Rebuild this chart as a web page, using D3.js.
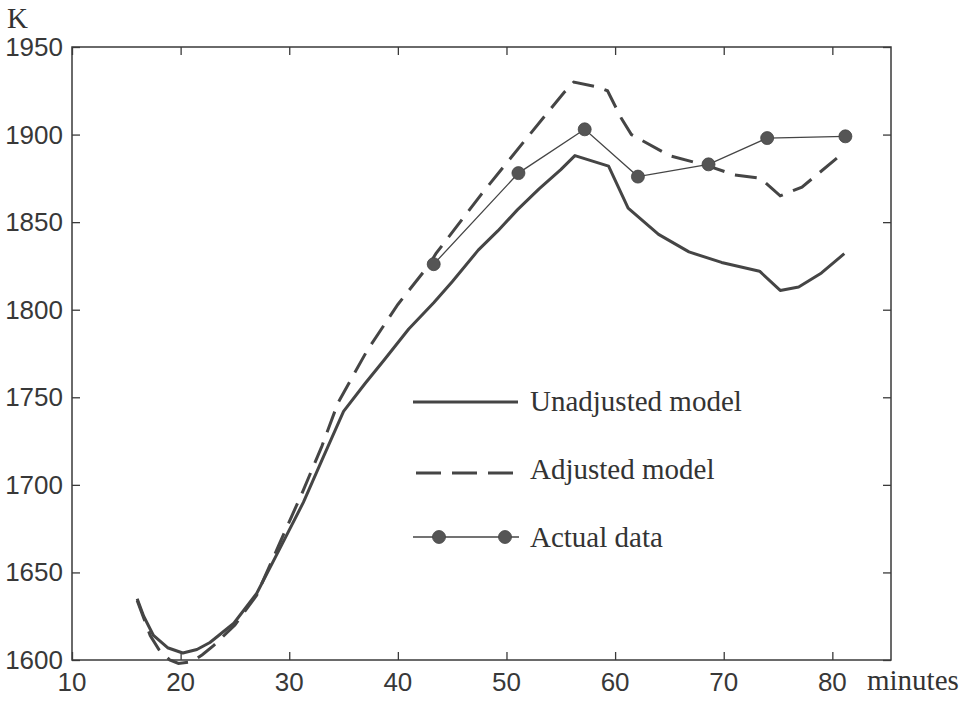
<!DOCTYPE html>
<html>
<head>
<meta charset="utf-8">
<script src="https://cdn.jsdelivr.net/npm/d3@7"></script>
<style>
  html, body { margin: 0; padding: 0; background: #fff; }
  svg { display: block; }
</style>
</head>
<body>
<svg id="chart" width="966" height="707"></svg>
<script>
// ---------- DATA ----------
const unadjustedT = [16, 16.6, 17.5, 18.8, 20.2, 21.5, 22.7, 24.9, 27, 29, 31.3, 33, 35, 37, 38.7, 41, 43.3, 45, 47.4, 49.2, 51, 53, 55, 56.3, 59.4, 61.2, 64, 66.8, 69.8, 73.3, 75.2, 76.9, 79, 81.1];
const unadjustedK = [1635, 1625, 1614, 1607, 1604, 1606, 1610, 1621, 1638, 1662, 1690, 1714, 1742, 1758, 1771, 1789, 1804, 1816, 1834, 1845, 1857, 1869, 1880, 1888, 1882, 1858, 1843, 1833, 1827, 1822, 1811, 1813, 1821, 1832];

const adjustedT = [16, 16.6, 17.2, 18, 19, 19.8, 21, 22, 23, 25, 27, 29, 31.3, 33, 34.5, 37.2, 40, 42.8, 43.5, 47.7, 52, 55.3, 56.2, 58.5, 59.3, 60.6, 61.5, 65, 68.6, 71, 73.4, 75.2, 77.2, 81.1];
const adjustedK = [1634, 1624, 1614, 1606, 1600, 1598, 1599, 1603, 1608, 1620, 1637, 1665, 1697, 1722, 1747, 1777, 1803, 1825, 1832, 1866, 1899, 1924, 1930, 1927, 1925, 1909, 1900, 1888, 1882, 1877, 1875, 1865, 1870, 1890];

const actualT = [43.3, 51.1, 57.2, 62.1, 68.6, 74, 81.2];
const actualK = [1826, 1878, 1903, 1876, 1883, 1898, 1899];

const xTicks = [10, 20, 30, 40, 50, 60, 70, 80];
const yTicks = [1600, 1650, 1700, 1750, 1800, 1850, 1900, 1950];
const legendLabels = ["Unadjusted model", "Adjusted model", "Actual data"];
const yUnit = "K";
const xUnit = "minutes";

// ---------- LAYOUT ----------
const svg = d3.select("#chart");
const pL = 72, pR = 891, pT = 47, pB = 660;
const x = d3.scaleLinear().domain([10, 85.4]).range([pL, pR]);
const y = d3.scaleLinear().domain([1600, 1950]).range([pB, pT]);

const axisColor = "#3a3a3a";
const lineColor = "#454545";
const sans = "'Liberation Sans', Arial, sans-serif";
const serif = "'Liberation Serif', 'Times New Roman', serif";

svg.append("rect").attr("width", 966).attr("height", 707).attr("fill", "#fff");

// Box
svg.append("rect")
  .attr("x", pL).attr("y", pT)
  .attr("width", pR - pL).attr("height", pB - pT)
  .attr("fill", "none").attr("stroke", axisColor).attr("stroke-width", 1.5);

// Axes with inward ticks
const tickLen = 8;
const gB = svg.append("g").attr("transform", `translate(0,${pB})`)
  .call(d3.axisBottom(x).tickValues(xTicks).tickSize(-tickLen).tickFormat(""));
const gT = svg.append("g").attr("transform", `translate(0,${pT})`)
  .call(d3.axisTop(x).tickValues(xTicks).tickSize(-tickLen).tickFormat(""));
const gL = svg.append("g").attr("transform", `translate(${pL},0)`)
  .call(d3.axisLeft(y).tickValues(yTicks).tickSize(-tickLen).tickFormat(""));
const gR = svg.append("g").attr("transform", `translate(${pR},0)`)
  .call(d3.axisRight(y).tickValues(yTicks).tickSize(-tickLen).tickFormat(""));
[gB, gT, gL, gR].forEach(g => {
  g.select(".domain").remove();
  g.selectAll(".tick line").attr("stroke", axisColor).attr("stroke-width", 1.3);
});

// Tick labels
svg.append("g").selectAll("text").data(xTicks).join("text")
  .attr("x", d => x(d)).attr("y", 691)
  .attr("text-anchor", "middle")
  .attr("font-family", sans).attr("font-size", 26).attr("fill", "#383838")
  .text(d => d);
svg.append("g").selectAll("text").data(yTicks).join("text")
  .attr("x", 63).attr("y", d => y(d) + 9)
  .attr("text-anchor", "end")
  .attr("font-family", sans).attr("font-size", 26).attr("fill", "#383838")
  .text(d => d);

// Unit labels
svg.append("text").attr("x", 7).attr("y", 28)
  .attr("font-family", serif).attr("font-size", 29).attr("fill", "#333").text(yUnit);
svg.append("text").attr("x", 867).attr("y", 690)
  .attr("font-family", serif).attr("font-size", 29).attr("fill", "#333").text(xUnit);

// Lines
const line = d3.line().x(d => x(d[0])).y(d => y(d[1]));
const unadj = unadjustedT.map((t, i) => [t, unadjustedK[i]]);
const adj = adjustedT.map((t, i) => [t, adjustedK[i]]);
const act = actualT.map((t, i) => [t, actualK[i]]);

svg.append("path").attr("d", line(unadj))
  .attr("fill", "none").attr("stroke", lineColor).attr("stroke-width", 3)
  .attr("stroke-linejoin", "round");
svg.append("path").attr("d", line(adj))
  .attr("fill", "none").attr("stroke", lineColor).attr("stroke-width", 3)
  .attr("stroke-dasharray", "22,11");
svg.append("path").attr("d", line(act))
  .attr("fill", "none").attr("stroke", lineColor).attr("stroke-width", 1.3);
svg.append("g").selectAll("circle").data(act).join("circle")
  .attr("cx", d => x(d[0])).attr("cy", d => y(d[1])).attr("r", 6.5)
  .attr("fill", "#555").attr("stroke", "#444").attr("stroke-width", 0.8);

// Legend
const lg = svg.append("g");
lg.append("line").attr("x1", 413).attr("x2", 518).attr("y1", 402).attr("y2", 402)
  .attr("stroke", lineColor).attr("stroke-width", 3);
lg.append("line").attr("x1", 416).attr("x2", 514).attr("y1", 473).attr("y2", 473)
  .attr("stroke", lineColor).attr("stroke-width", 3).attr("stroke-dasharray", "25,11");
lg.append("line").attr("x1", 413).attr("x2", 519).attr("y1", 537).attr("y2", 537)
  .attr("stroke", lineColor).attr("stroke-width", 1.3);
[439, 505].forEach(cx => lg.append("circle").attr("cx", cx).attr("cy", 537).attr("r", 6.5)
  .attr("fill", "#555").attr("stroke", "#444").attr("stroke-width", 0.8));
lg.selectAll("text.lab").data(legendLabels).join("text").attr("class", "lab")
  .attr("x", 530).attr("y", (d, i) => [411, 479, 547][i])
  .attr("font-family", serif).attr("font-size", 29).attr("fill", "#333")
  .text(d => d);
</script>
</body>
</html>
